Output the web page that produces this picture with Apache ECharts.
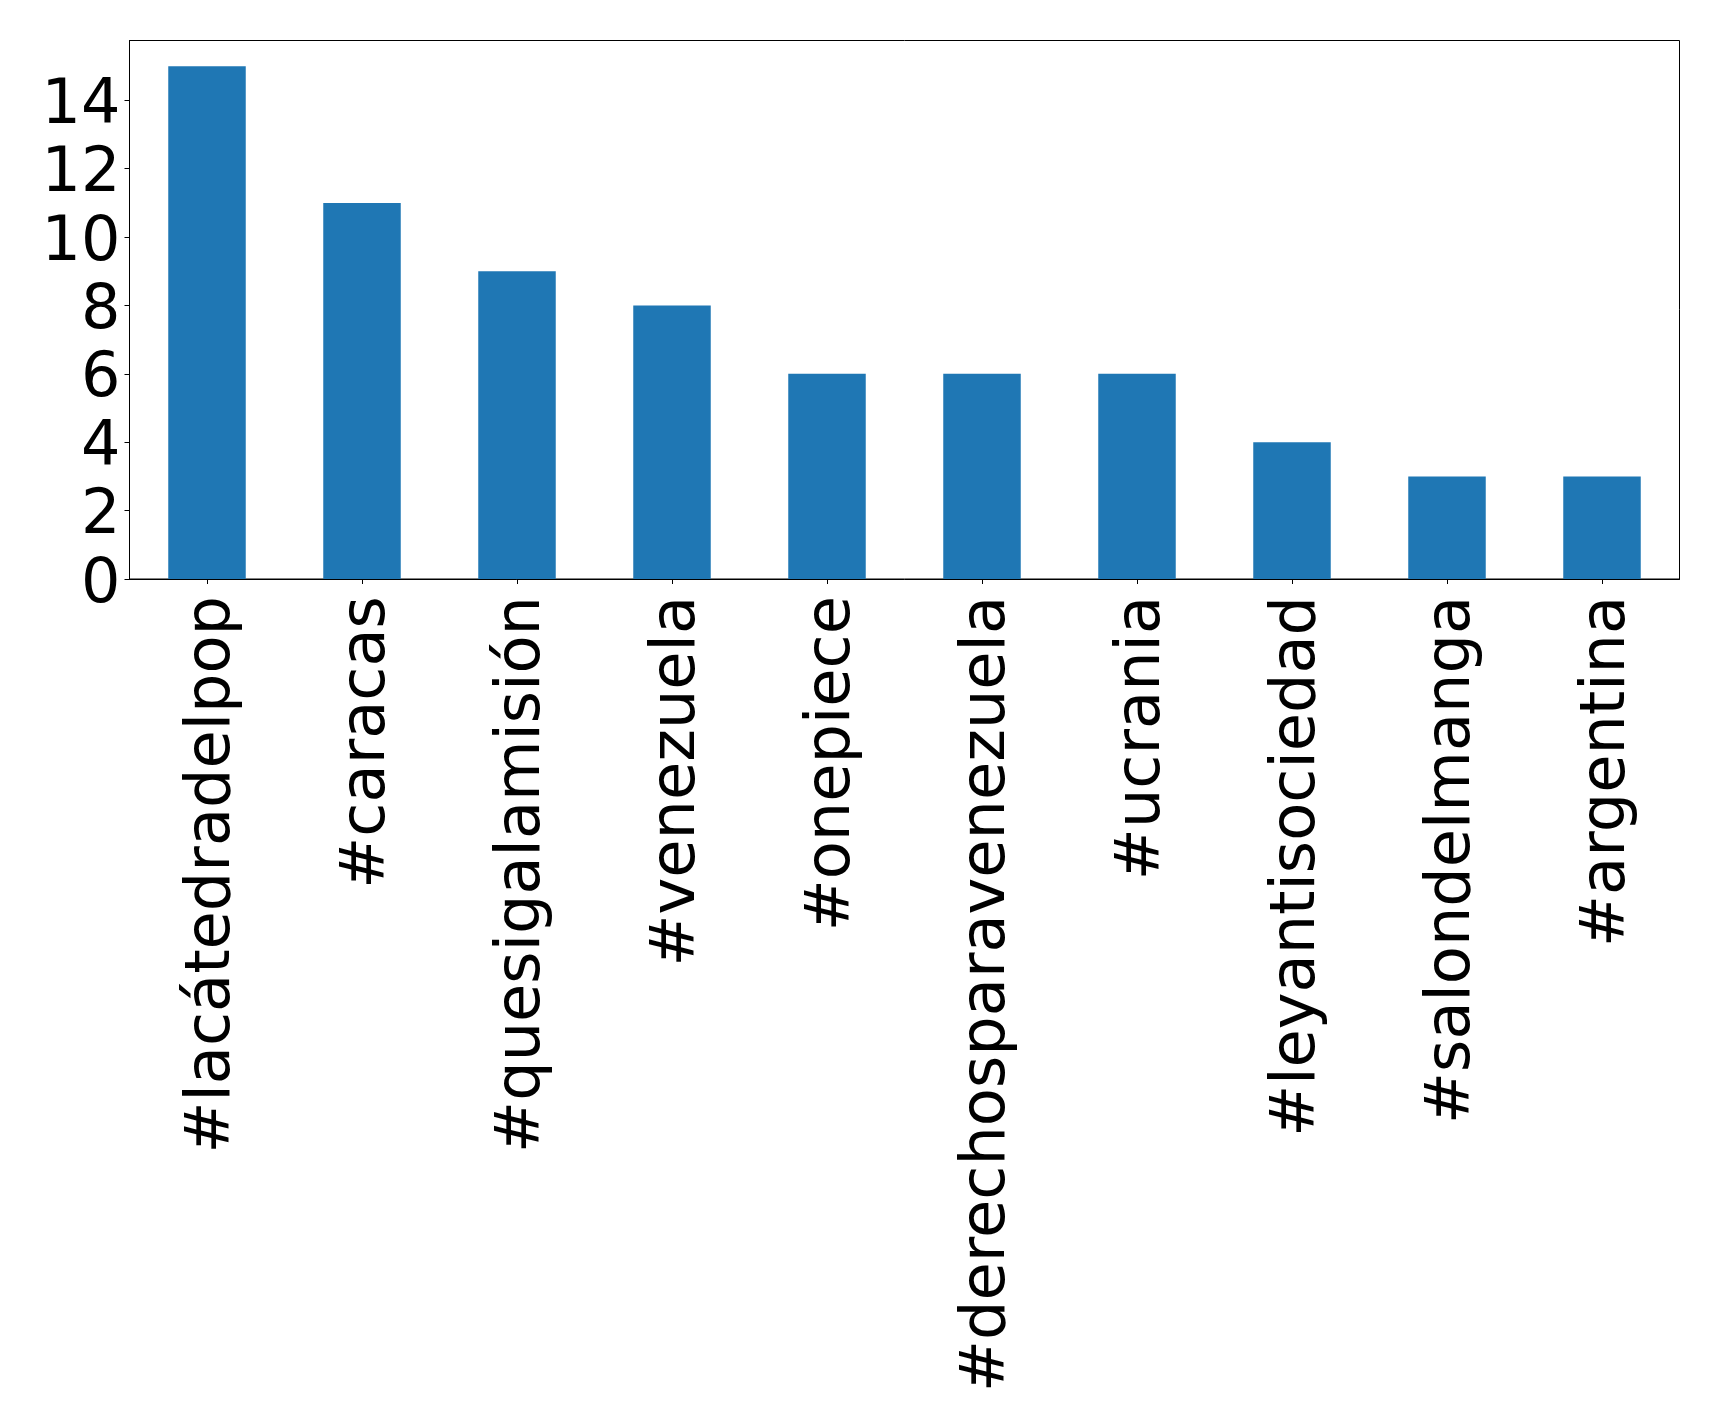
<!DOCTYPE html>
<html>
<head>
<meta charset="utf-8">
<script src="https://cdn.jsdelivr.net/npm/echarts@6/dist/echarts.min.js"></script>
<style>
html,body{margin:0;padding:0;background:#fff;}
#chart{width:1719px;height:1428px;}
</style>
</head>
<body>
<div id="chart"></div>
<script>
const categories = ['#lacátedradelpop','#caracas','#quesigalamisión','#venezuela','#onepiece','#derechosparavenezuela','#ucrania','#leyantisociedad','#salondelmanga','#argentina'];
const counts = [15, 11, 9, 8, 6, 6, 6, 4, 3, 3];
const yTicks = [0, 2, 4, 6, 8, 10, 12, 14];

const chart = echarts.init(document.getElementById('chart'), null, {renderer:'canvas'});
const font = 'DejaVu Sans';
chart.setOption({
  animation: false,
  backgroundColor: '#fff',
  grid: {left: 129.5, right: 39.5, top: 40.5, bottom: 849, show: true, borderColor: '#000', borderWidth: 1, backgroundColor: 'transparent'},
  xAxis: {
    type: 'category',
    data: categories,
    boundaryGap: true,
    axisLine: {show: true, lineStyle: {color: '#000', width: 1}},
    axisTick: {show: true, alignWithLabel: true, length: 5, lineStyle: {color: '#000', width: 1}},
    axisLabel: {rotate: 90, interval: 0, margin: 17, fontSize: 62.2, fontFamily: font, color: '#000', verticalAlign: 'top', lineHeight: 12},
    splitLine: {show: false}
  },
  yAxis: {
    type: 'value',
    min: 0, max: 15.75,
    axisLine: {show: true, lineStyle: {color: '#000', width: 1}},
    axisTick: {show: true, length: 5, lineStyle: {color: '#000', width: 1}, customValues: yTicks},
    axisLabel: {margin: 9, fontSize: 62, fontFamily: font, color: '#000', verticalAlign: 'top', lineHeight: 13, customValues: yTicks},
    splitLine: {show: false}
  },
  series: [{
    type: 'bar',
    data: counts,
    barWidth: '50%',
    itemStyle: {color: '#1f77b4'}
  }]
});
</script>
</body>
</html>
